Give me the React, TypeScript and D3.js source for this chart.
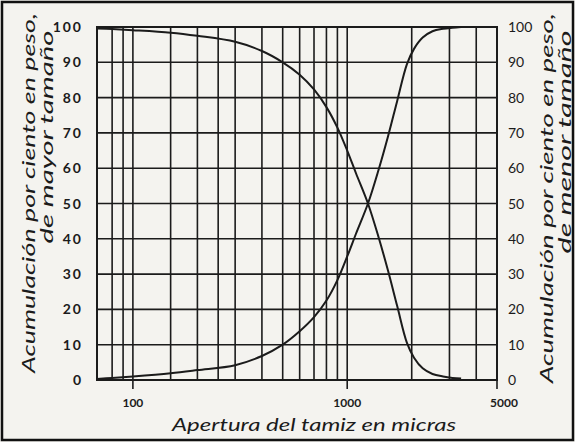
import { useMemo } from "react";
import * as d3 from "d3";

// sieve opening (micras) and cumulative percentages
const sizes = [68, 80, 100, 150, 200, 300, 400, 500, 600, 700, 800, 900, 1000, 1100, 1250, 1400, 1550, 1710, 1900, 2050, 2250, 2500, 2800, 3100, 3400];
const mayorPct = [99.6, 99.4, 99.1, 98.4, 97.5, 95.8, 93.2, 90, 86.5, 82.3, 77.3, 71.5, 65, 58.5, 50, 40.5, 31, 21, 10.5, 6.3, 3.3, 1.7, 1.0, 0.6, 0.4];
const menorPct = [0.3, 0.6, 1, 1.9, 2.8, 4.2, 6.8, 10, 13.8, 17.8, 22.5, 28.3, 35, 41.5, 50, 59.5, 69, 79, 89.5, 93.8, 97, 98.8, 99.5, 99.8, 100];

const gridX = [80, 90, 100, 150, 200, 250, 300, 400, 500, 600, 700, 800, 900, 1000, 2000, 3000, 4000];
const xLabels = [100, 1000, 5000];
const yTicks = [0, 10, 20, 30, 40, 50, 60, 70, 80, 90, 100];

const W = 575, H = 442;
const margin = { top: 27, right: 78, bottom: 62, left: 97 };
const ink = "#1b1b1b";
const font = "Lato, 'Open Sans', sans-serif";

export default function App() {
  const x = useMemo(() => d3.scaleLog().domain([68, 5000]).range([margin.left, W - margin.right]), []);
  const y = useMemo(() => d3.scaleLinear().domain([0, 100]).range([H - margin.bottom, margin.top]), []);

  const line = d3.line<[number, number]>()
    .x(d => x(d[0]))
    .y(d => y(d[1]))
    .curve(d3.curveCatmullRom.alpha(0.5));

  const mayor = line(sizes.map((s, i) => [s, mayorPct[i]] as [number, number])) || "";
  const menor = line(sizes.map((s, i) => [s, menorPct[i]] as [number, number])) || "";

  const x0 = x(68), x1 = x(5000), yb = y(0), yt = y(100);

  return (
    <svg width={W} height={H} style={{ position: "absolute", left: 0, top: 0, background: "#f4f3ef" }}>
      <rect x={2} y={2} width={W - 4} height={H - 4} fill="none" stroke="#111" strokeWidth={2.5} />

      {/* grid */}
      <g stroke={ink} strokeWidth={1.6}>
        {gridX.map(v => (
          <line key={"vx" + v} x1={x(v)} x2={x(v)} y1={yt} y2={yb} />
        ))}
        {yTicks.map(v => (
          <line key={"hy" + v} x1={x0} x2={x1} y1={y(v)} y2={y(v)} />
        ))}
        {xLabels.map(v => (
          <line key={"tk" + v} x1={x(v)} x2={x(v)} y1={yb} y2={yb + 9} />
        ))}
        <rect x={x0} y={yt} width={x1 - x0} height={yb - yt} fill="none" strokeWidth={2} />
      </g>

      {/* curves */}
      <path d={mayor} fill="none" stroke={ink} strokeWidth={2} />
      <path d={menor} fill="none" stroke={ink} strokeWidth={2} />

      {/* tick labels */}
      <g fontFamily={font} fill={ink}>
        {yTicks.map(v => (
          <text key={"ly" + v} x={83} y={y(v) + 5} textAnchor="end" letterSpacing={2} fontSize={14} fontWeight={700}>{v}</text>
        ))}
        {yTicks.map(v => (
          <text key={"ry" + v} x={508} y={y(v) + 5} textAnchor="start" fontSize={14}>{v}</text>
        ))}
        {xLabels.map(v => (
          <text key={"bx" + v} x={x(v) + (v === 5000 ? 7 : 0)} y={407} textAnchor="middle" fontSize={12} fontWeight={700}>{v}</text>
        ))}
      </g>

      {/* axis titles */}
      <g fontFamily={font} fontStyle="italic" fontSize={17} fill={ink}>
        <text x={314} y={431} textAnchor="middle" fontSize={18} textLength={284} lengthAdjust="spacingAndGlyphs">
          Apertura del tamiz en micras
        </text>
        <text transform="translate(35,193) rotate(-90)" textAnchor="middle" textLength={360} lengthAdjust="spacingAndGlyphs">
          Acumulación por ciento en peso,
        </text>
        <text transform="translate(53,137) rotate(-90)" textAnchor="middle" textLength={213} lengthAdjust="spacingAndGlyphs">
          de mayor tamaño
        </text>
        <text transform="translate(553,198) rotate(-90)" textAnchor="middle" textLength={370} lengthAdjust="spacingAndGlyphs">
          Acumulación por ciento en peso,
        </text>
        <text transform="translate(571,142) rotate(-90)" textAnchor="middle" textLength={223} lengthAdjust="spacingAndGlyphs">
          de menor tamaño
        </text>
      </g>
    </svg>
  );
}
